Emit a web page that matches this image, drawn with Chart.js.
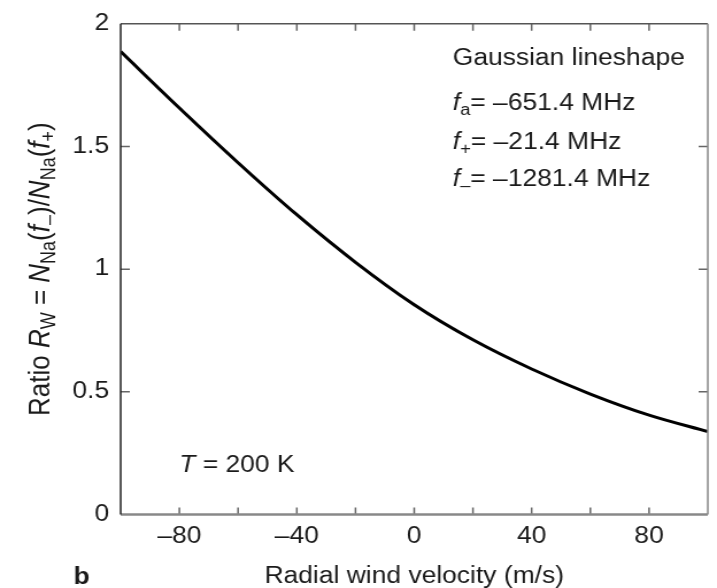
<!DOCTYPE html>
<html>
<head>
<meta charset="utf-8">
<script src="https://cdn.jsdelivr.net/npm/chart.js@4.4.1/dist/chart.umd.min.js"></script>
<style>
html, body { margin: 0; padding: 0; background: #fff; overflow: hidden; }
#chart { display: block; transform: scaleX(1.149); transform-origin: 0 0; }
</style>
</head>
<body>
<canvas id="chart" width="624" height="588"></canvas>
<script>
// radial wind velocity (m/s) and ratio R_W
const velocity = [-100, -80, -60, -40, -20, 0, 20, 40, 60, 80, 100]
const ratio = [1.887, 1.657, 1.434, 1.222, 1.028, 0.855, 0.712, 0.593, 0.491, 0.405, 0.338]

const xLabelled = [-80, -40, 0, 40, 80]
const yLabelled = [0, 0.5, 1, 1.5, 2]

const FONT = "'Liberation Sans', Arial, Helvetica, sans-serif"
const INK = '#1a1a1a'
const SIZE = 23
const SUB = 16

const yTitle = [
  { t: 'Ratio ' }, { t: 'R', i: true }, { t: 'W', sub: true }, { t: ' = ' },
  { t: 'N', i: true }, { t: 'Na', sub: true }, { t: '(' }, { t: 'f', i: true }, { t: '\u2013', sub: true },
  { t: ')/' }, { t: 'N', i: true }, { t: 'Na', sub: true }, { t: '(' }, { t: 'f', i: true }, { t: '+', sub: true }, { t: ')' },
]
const notes = [
  { x: 394, y: 65, parts: [{ t: 'Gaussian lineshape' }] },
  { x: 394, y: 110, parts: [{ t: 'f', i: true }, { t: 'a', sub: true }, { t: '= \u2013651.4 MHz' }] },
  { x: 394, y: 148.5, parts: [{ t: 'f', i: true }, { t: '+', sub: true }, { t: '= \u201321.4 MHz' }] },
  { x: 394, y: 186, parts: [{ t: 'f', i: true }, { t: '\u2013', sub: true }, { t: '= \u20131281.4 MHz' }] },
  { x: 156, y: 472, parts: [{ t: 'T', i: true }, { t: ' = 200 K' }] },
  { x: 64, y: 584, parts: [{ t: 'b', b: true }] },
]

const fontOf = (p, size = SIZE, sub = SUB) => (p.i ? 'italic ' : '') + (p.b ? 'bold ' : '') + (p.sub ? sub : size) + 'px ' + FONT

const richWidth = (ctx, parts, size, sub) => parts.reduce((w, p) => {
  ctx.font = fontOf(p, size, sub)
  return w + ctx.measureText(p.t).width
}, 0)

const drawRich = (ctx, parts, x, y, size, sub) => {
  ctx.textAlign = 'left'
  ctx.textBaseline = 'alphabetic'
  ctx.fillStyle = INK
  parts.forEach(p => {
    ctx.font = fontOf(p, size, sub)
    ctx.fillText(p.t, x, p.sub ? y + 5 : y)
    x += ctx.measureText(p.t).width
  })
}

const frame = {
  id: 'frame',
  afterDraw(chart) {
    const { ctx, chartArea: a, scales: { x, y } } = chart
    ctx.save()
    // inward tick marks on all four sides
    ctx.strokeStyle = '#666'
    ctx.lineWidth = 1.5
    ctx.beginPath()
    x.ticks.forEach(t => {
      if (t.value <= x.min || t.value >= x.max) return
      const px = x.getPixelForValue(t.value)
      ctx.moveTo(px, a.bottom); ctx.lineTo(px, a.bottom - 7)
      ctx.moveTo(px, a.top); ctx.lineTo(px, a.top + 7)
    })
    y.ticks.forEach(t => {
      if (t.value <= y.min || t.value >= y.max) return
      const py = y.getPixelForValue(t.value)
      ctx.moveTo(a.left, py); ctx.lineTo(a.left + 8, py)
      ctx.moveTo(a.right, py); ctx.lineTo(a.right - 8, py)
    })
    ctx.stroke()

    // box
    const edge = (x1, y1, x2, y2, color, w) => {
      ctx.strokeStyle = color
      ctx.lineWidth = w
      ctx.beginPath(); ctx.moveTo(x1, y1); ctx.lineTo(x2, y2); ctx.stroke()
    }
    edge(a.left, a.top, a.right, a.top, '#555', 1.5)
    edge(a.right, a.top, a.right, a.bottom, '#888', 1.5)
    edge(a.left, a.bottom, a.right, a.bottom, '#888', 2.5)
    edge(a.left, a.top, a.left, a.bottom, '#222', 1.5)

    // y axis title, rotated
    ctx.translate(43, (a.top + a.bottom) / 2)
    ctx.rotate(-Math.PI / 2)
    drawRich(ctx, yTitle, -richWidth(ctx, yTitle, 26, 18) / 2, 0, 26, 18)
    ctx.restore()

    ctx.save()
    notes.forEach(n => drawRich(ctx, n.parts, n.x, n.y))
    ctx.restore()
  }
}

Chart.defaults.font.family = FONT
Chart.defaults.color = INK

new Chart(document.getElementById('chart'), {
  type: 'line',
  data: {
    datasets: [{
      data: velocity.map((v, i) => ({ x: v, y: ratio[i] })),
      borderColor: '#000',
      borderWidth: 3,
      pointRadius: 0,
      fill: false,
      cubicInterpolationMode: 'monotone',
    }]
  },
  options: {
    responsive: false,
    animation: false,
    devicePixelRatio: 1,
    layout: { padding: { top: 15, right: 1, left: 0, bottom: 0 } },
    plugins: { legend: { display: false }, tooltip: { enabled: false } },
    scales: {
      x: {
        type: 'linear',
        min: -100,
        max: 100,
        grid: { display: false, drawTicks: false },
        border: { display: false },
        ticks: {
          stepSize: 20,
          padding: 8,
          maxRotation: 0,
          autoSkip: false,
          font: { size: SIZE },
          callback: v => xLabelled.includes(v) ? (v < 0 ? '\u2013' + Math.abs(v) : String(v)) : '',
        },
        title: {
          display: true,
          text: 'Radial wind velocity (m/s)',
          font: { size: SIZE, lineHeight: 1 },
          padding: { top: 0, bottom: 0 },
        },
        afterFit: s => { s.height = 73.5 },
      },
      y: {
        min: 0,
        max: 2,
        grid: { display: false, drawTicks: false },
        border: { display: false },
        ticks: {
          stepSize: 0.5,
          padding: 10,
          font: { size: SIZE },
          callback: v => yLabelled.includes(v) ? String(v) : '',
        },
        afterFit: s => { s.width = 105 },
      },
    },
  },
  plugins: [frame],
})
</script>
</body>
</html>
